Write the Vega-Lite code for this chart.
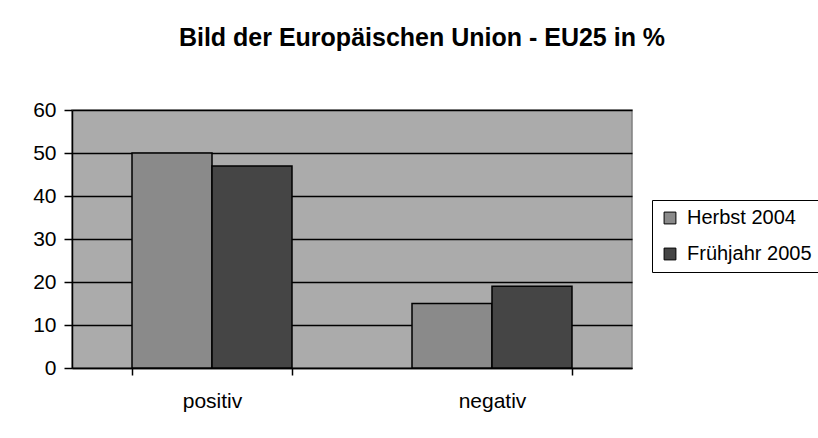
{
  "$schema": "https://vega.github.io/schema/vega-lite/v6.json",
  "width": 560,
  "height": 258,
  "autosize": {"type": "none"},
  "padding": {"left": 72, "top": 110, "right": 186, "bottom": 70},
  "background": "white",
  "title": {
    "text": "Bild der Europäischen Union - EU25 in %",
    "font": "Liberation Sans",
    "fontSize": 25,
    "fontWeight": "bold",
    "color": "black",
    "anchor": "middle",
    "frame": "group",
    "dx": 70,
    "offset": 28,
    "baseline": "alphabetic"
  },
  "data": {
    "values": [
      {"category": "positiv", "series": "Herbst 2004", "value": 50},
      {"category": "positiv", "series": "Frühjahr 2005", "value": 47},
      {"category": "negativ", "series": "Herbst 2004", "value": 15},
      {"category": "negativ", "series": "Frühjahr 2005", "value": 19}
    ]
  },
  "mark": {"type": "bar", "stroke": "black", "strokeWidth": 1.5},
  "encoding": {
    "x": {
      "field": "category",
      "type": "nominal",
      "sort": ["positiv", "negativ"],
      "scale": {"paddingInner": 0.4286, "paddingOuter": 0.2143},
      "axis": {
        "title": null,
        "labelAngle": 0,
        "labelFont": "Liberation Sans",
        "labelFontSize": 21,
        "labelColor": "black",
        "labelPadding": 15,
        "tickBand": "extent",
        "tickSize": 7,
        "tickColor": "black",
        "tickWidth": 1.5,
        "domainColor": "black",
        "domainWidth": 1.5,
        "grid": false
      }
    },
    "xOffset": {
      "field": "series",
      "type": "nominal",
      "sort": ["Herbst 2004", "Frühjahr 2005"],
      "scale": {"paddingInner": 0, "paddingOuter": 0}
    },
    "y": {
      "field": "value",
      "type": "quantitative",
      "scale": {"domain": [0, 60], "nice": false},
      "axis": {
        "title": null,
        "values": [0, 10, 20, 30, 40, 50, 60],
        "labelFont": "Liberation Sans",
        "labelFontSize": 21,
        "labelColor": "black",
        "labelPadding": 8,
        "tickSize": 8,
        "tickColor": "black",
        "tickWidth": 1.5,
        "domainColor": "black",
        "domainWidth": 1.5,
        "grid": true,
        "gridColor": "black",
        "gridWidth": 1.5,
        "gridOpacity": 1
      }
    },
    "color": {
      "field": "series",
      "type": "nominal",
      "sort": ["Herbst 2004", "Frühjahr 2005"],
      "scale": {"domain": ["Herbst 2004", "Frühjahr 2005"], "range": ["#8a8a8a", "#454545"]},
      "legend": {
        "title": null,
        "orient": "none",
        "legendX": 580,
        "legendY": 90,
        "fillColor": "white",
        "strokeColor": "black",
        "padding": 8,
        "labelFont": "Liberation Sans",
        "labelFontSize": 20,
        "labelColor": "black",
        "labelOffset": 7,
        "symbolType": "square",
        "symbolSize": 140,
        "symbolStrokeColor": "black",
        "symbolStrokeWidth": 1,
        "symbolOpacity": 1,
        "rowPadding": 16,
        "labelLimit": 300
      }
    }
  },
  "config": {
    "view": {"fill": "#ababab", "stroke": "#808080", "strokeWidth": 1.5}
  }
}
